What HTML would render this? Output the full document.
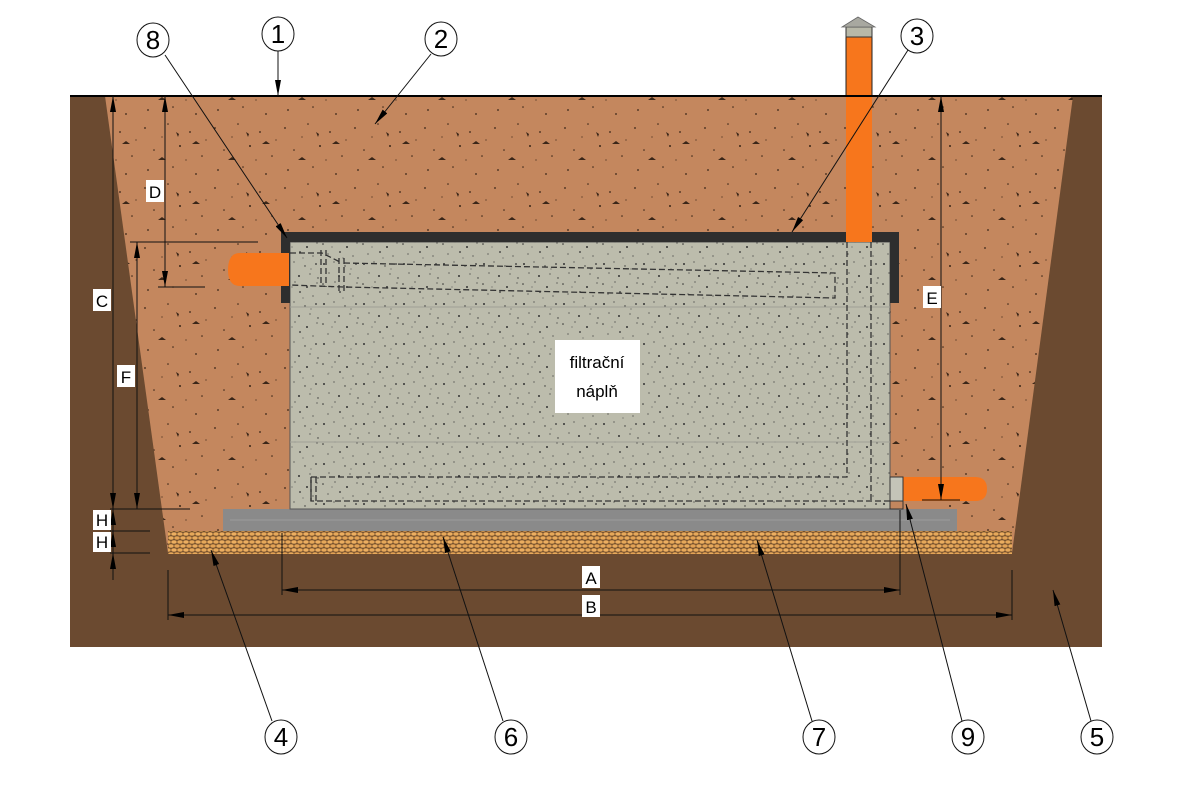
<!DOCTYPE html>
<html><head><meta charset="utf-8"><style>
html,body{margin:0;padding:0;background:#fff;}
svg{display:block;}
text{font-family:"Liberation Sans",sans-serif;}
</style></head><body>
<svg width="1200" height="794" viewBox="0 0 1200 794" xmlns="http://www.w3.org/2000/svg">
<defs>
<pattern id="soil" width="70" height="60" patternUnits="userSpaceOnUse">
<rect width="70" height="60" fill="#c4875e"/>
<g fill="#3a2618">
<circle cx="5" cy="8" r="0.9"/><circle cx="28" cy="4" r="0.8"/><circle cx="50" cy="12" r="0.9"/>
<circle cx="14" cy="30" r="0.8"/><circle cx="40" cy="26" r="1"/><circle cx="62" cy="36" r="0.8"/>
<circle cx="8" cy="50" r="0.9"/><circle cx="33" cy="47" r="0.8"/><circle cx="56" cy="54" r="0.9"/>
<circle cx="22" cy="17" r="0.6"/><circle cx="66" cy="20" r="0.6"/><circle cx="46" cy="40" r="0.6"/>
<path d="M18 40 l4 -3 l4 3 z"/><path d="M52 24 l4 -3 l4 3 z" /><path d="M36 12 l3 2 l-1 3 z"/>
</g>
</pattern>
<pattern id="fill" width="40" height="40" patternUnits="userSpaceOnUse">
<rect width="40" height="40" fill="#bcbcac"/>
<g fill="#333">
<circle cx="3" cy="4" r="0.8"/><circle cx="15" cy="2" r="0.6"/><circle cx="27" cy="7" r="1"/><circle cx="37" cy="3" r="0.6"/>
<circle cx="8" cy="14" r="0.6"/><circle cx="20" cy="12" r="0.9"/><circle cx="33" cy="16" r="0.6"/>
<circle cx="4" cy="24" r="1"/><circle cx="14" cy="22" r="0.6"/><circle cx="25" cy="26" r="0.7"/><circle cx="36" cy="24" r="0.9"/>
<circle cx="9" cy="33" r="0.6"/><circle cx="19" cy="36" r="1"/><circle cx="30" cy="34" r="0.6"/><circle cx="38" cy="38" r="0.7"/>
<circle cx="12" cy="7" r="0.5"/><circle cx="31" cy="29" r="0.5"/><circle cx="23" cy="18" r="0.5"/>
</g>
</pattern>
<pattern id="gravel" width="12" height="8" patternUnits="userSpaceOnUse">
<rect width="12" height="8" fill="#7a5530"/>
<ellipse cx="3" cy="2" rx="3" ry="2" fill="#e8aa5c" stroke="#5a3a20" stroke-width="0.4"/>
<ellipse cx="9" cy="2" rx="3" ry="2" fill="#e2a255" stroke="#5a3a20" stroke-width="0.4"/>
<ellipse cx="0" cy="6" rx="3" ry="2" fill="#e6a85a" stroke="#5a3a20" stroke-width="0.4"/>
<ellipse cx="6" cy="6" rx="3" ry="2" fill="#ecae60" stroke="#5a3a20" stroke-width="0.4"/>
<ellipse cx="12" cy="6" rx="3" ry="2" fill="#e6a85a" stroke="#5a3a20" stroke-width="0.4"/>
</pattern>
<marker id="arb" markerWidth="16" markerHeight="6" refX="16" refY="3" orient="auto" markerUnits="userSpaceOnUse"><path d="M0 0 L16 3 L0 6 z" fill="#000"/></marker>
<marker id="ars" markerWidth="16" markerHeight="6" refX="0" refY="3" orient="auto" markerUnits="userSpaceOnUse"><path d="M16 0 L0 3 L16 6 z" fill="#000"/></marker>
</defs>

<rect x="70" y="96" width="1032" height="551" fill="#6b4a30"/>
<polygon points="105,96 1073,96 1012,553 168,553" fill="url(#soil)"/>
<rect x="168" y="531" width="844" height="23" fill="url(#gravel)"/>
<rect x="223" y="509" width="734" height="22" fill="#8a8a8a"/>
<line x1="230" y1="520" x2="950" y2="520" stroke="#9c9c9c" stroke-width="1"/>
<rect x="290" y="242" width="600" height="267" fill="url(#fill)" stroke="#555" stroke-width="1"/>
<line x1="290" y1="307" x2="890" y2="307" stroke="#a0a096" stroke-width="1"/>
<line x1="290" y1="442" x2="890" y2="442" stroke="#a0a096" stroke-width="1"/>
<rect x="281" y="232" width="617" height="10" fill="#2e2e2e"/>
<rect x="281" y="232" width="9" height="71" fill="#2e2e2e"/>
<rect x="890" y="232" width="9" height="71" fill="#2e2e2e"/>
<rect x="846" y="37" width="26" height="205" fill="#f7761c"/>
<line x1="846" y1="27" x2="846" y2="96" stroke="#222" stroke-width="1"/>
<line x1="872" y1="27" x2="872" y2="96" stroke="#222" stroke-width="1"/>
<rect x="846" y="27" width="26" height="10" fill="#b8b8a8" stroke="#333" stroke-width="1"/>
<polygon points="842,27 858,17 875,27" fill="#a8a8a0" stroke="#666" stroke-width="0.8"/>
<path d="M240 253 H281 V286 H240 Q228 286 228 270 Q228 253 240 253 z" fill="#f7761c"/>
<rect x="281" y="253" width="8" height="33" fill="#f7761c"/>
<path d="M903 477 H975 Q987 477 987 489 Q987 501 975 501 H903 z" fill="#f7761c"/>
<rect x="890" y="477" width="13" height="24" fill="#c4c4b8" stroke="#333" stroke-width="1"/>
<rect x="890" y="501" width="13" height="8" fill="#c4875e" stroke="#333" stroke-width="1"/>
<g fill="none" stroke="#333" stroke-width="1.3" stroke-dasharray="6,3">
<path d="M290 253 H322 L340 262 M344 263 L835 273 V298 L344 287 L290 285"/>
<path d="M847 242 V477 H311 V501 H890"/>
<path d="M871 242 V501"/>
<path d="M321 250 V287 M326 250 V287 M339 258 V291 M344 258 V291"/>
<path d="M311 477 V501 M316 477 V501"/>
</g>
<rect x="555" y="340" width="85" height="73" fill="#fff"/>
<text x="597" y="368" font-size="17" text-anchor="middle">filtrační</text>
<text x="597" y="397" font-size="17" text-anchor="middle">náplň</text>

<line x1="70" y1="96" x2="1102" y2="96" stroke="#000" stroke-width="2"/>

<g stroke="#111" stroke-width="1" fill="none">
<line x1="113" y1="96" x2="113" y2="509" marker-start="url(#ars)" marker-end="url(#arb)"/>
<line x1="165" y1="96" x2="165" y2="287" marker-start="url(#ars)" marker-end="url(#arb)"/>
<line x1="137" y1="242" x2="137" y2="509" marker-start="url(#ars)" marker-end="url(#arb)"/>
<line x1="941" y1="96" x2="941" y2="500" marker-start="url(#ars)" marker-end="url(#arb)"/>
<line x1="113" y1="509" x2="113" y2="531" marker-start="url(#ars)"/>
<line x1="113" y1="531" x2="113" y2="553" marker-start="url(#ars)"/>
<line x1="113" y1="553" x2="113" y2="580" marker-start="url(#ars)"/>
<line x1="130" y1="242" x2="258" y2="242"/>
<line x1="158" y1="287" x2="205" y2="287"/>
<line x1="110" y1="509" x2="190" y2="509"/>
<line x1="110" y1="531" x2="150" y2="531"/>
<line x1="110" y1="553" x2="150" y2="553"/>
<line x1="922" y1="500" x2="960" y2="500"/>
<line x1="282" y1="533" x2="282" y2="595"/>
<line x1="900" y1="510" x2="900" y2="595"/>
<line x1="168" y1="570" x2="168" y2="620"/>
<line x1="1012" y1="570" x2="1012" y2="620"/>
<line x1="282" y1="590" x2="900" y2="590" marker-start="url(#ars)" marker-end="url(#arb)"/>
<line x1="168" y1="615" x2="1012" y2="615" marker-start="url(#ars)" marker-end="url(#arb)"/>
</g>
<g font-size="17" text-anchor="middle">
<rect x="146" y="180" width="18" height="22" fill="#fff"/><text x="155" y="198">D</text>
<rect x="93" y="289" width="18" height="22" fill="#fff"/><text x="102" y="307">C</text>
<rect x="117" y="365" width="18" height="22" fill="#fff"/><text x="126" y="383">F</text>
<rect x="923" y="286" width="18" height="22" fill="#fff"/><text x="932" y="304">E</text>
<rect x="93" y="510" width="18" height="20" fill="#fff"/><text x="102" y="526">H</text>
<rect x="93" y="532" width="18" height="20" fill="#fff"/><text x="102" y="548">H</text>
<rect x="582" y="566" width="18" height="22" fill="#fff"/><text x="591" y="584">A</text>
<rect x="582" y="595" width="18" height="22" fill="#fff"/><text x="591" y="613">B</text>
</g>

<g stroke="#111" stroke-width="1" fill="none">
<line x1="278" y1="50" x2="278" y2="96" marker-end="url(#arb)"/>
<line x1="431" y1="54" x2="375" y2="124" marker-end="url(#arb)"/>
<line x1="908" y1="50" x2="792" y2="232" marker-end="url(#arb)"/>
<line x1="165" y1="55" x2="287" y2="238" marker-end="url(#arb)"/>
<line x1="272" y1="721" x2="211" y2="550" marker-end="url(#arb)"/>
<line x1="503" y1="721" x2="443" y2="537" marker-end="url(#arb)"/>
<line x1="812" y1="721" x2="757" y2="540" marker-end="url(#arb)"/>
<line x1="962" y1="721" x2="906" y2="504" marker-end="url(#arb)"/>
<line x1="1091" y1="721" x2="1053" y2="590" marker-end="url(#arb)"/>
</g>
<g fill="#fff" stroke="#111" stroke-width="1">
<ellipse cx="153" cy="40" rx="16" ry="17"/>
<ellipse cx="278" cy="34" rx="16" ry="17"/>
<ellipse cx="441" cy="39" rx="16" ry="17"/>
<ellipse cx="917" cy="36" rx="16" ry="17"/>
<ellipse cx="281" cy="737" rx="16" ry="17"/>
<ellipse cx="511" cy="737" rx="16" ry="17"/>
<ellipse cx="819" cy="737" rx="16" ry="17"/>
<ellipse cx="968" cy="737" rx="16" ry="17"/>
<ellipse cx="1097" cy="737" rx="16" ry="17"/>
</g>
<g font-size="26" text-anchor="middle">
<text x="153" y="49">8</text>
<text x="278" y="43">1</text>
<text x="441" y="48">2</text>
<text x="917" y="45">3</text>
<text x="281" y="746">4</text>
<text x="511" y="746">6</text>
<text x="819" y="746">7</text>
<text x="968" y="746">9</text>
<text x="1097" y="746">5</text>
</g>
</svg>
</body></html>
